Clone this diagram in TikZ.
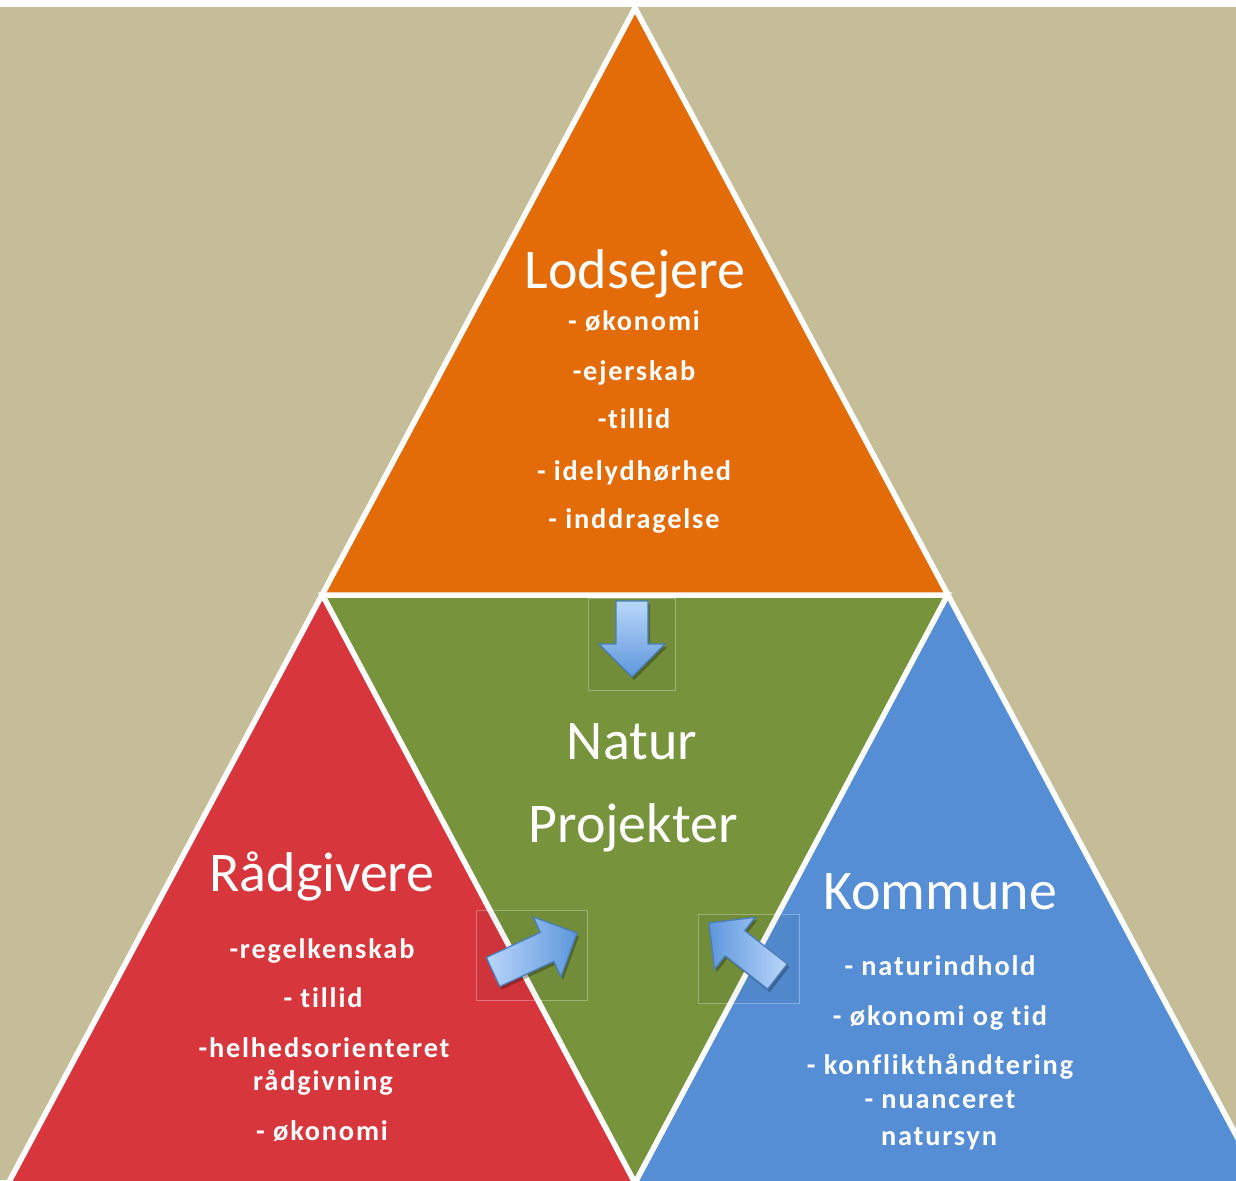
\documentclass[tikz,border=0pt]{standalone}
\usepackage{fontspec}
\setmainfont{Carlito}
\newfontfamily\itemfont[LetterSpace=6.5,Ligatures={NoCommon}]{Carlito}
\definecolor{bgtan}{HTML}{C4BD97}
\definecolor{orng}{HTML}{E36C09}
\definecolor{rd}{HTML}{D7373C}
\definecolor{grn}{HTML}{77933C}
\definecolor{blu}{HTML}{558ED5}
\definecolor{arlight}{HTML}{B9D6FA}
\definecolor{ardark}{HTML}{5E97DC}
\definecolor{arline}{HTML}{4A7EBB}
\newcommand\blockarr[4]{%
  \begin{scope}[shift={#1},shift={(2,3)},rotate=#2]
    \fill[black,opacity=0.28] (0,-16) -- ({#3-33},-16) -- ({#3-33},-33) -- (#3,0) -- ({#3-33},33) -- ({#3-33},16) -- (0,16) -- cycle;
  \end{scope}
  \begin{scope}[shift={#1},rotate=#2]
    \path[draw=arline,line width=1.3,line join=miter,#4] (0,-16) -- ({#3-33},-16) -- ({#3-33},-33) -- (#3,0) -- ({#3-33},33) -- ({#3-33},16) -- (0,16) -- cycle;
  \end{scope}}
\begin{document}
\begin{tikzpicture}[x=1pt,y=-1pt,
  title/.style={text=white,font=\fontsize{56}{60}\selectfont,anchor=base,inner sep=0},
  item/.style={text=white,font=\itemfont\bfseries\fontsize{28.3}{32}\selectfont,anchor=base,inner sep=0},
  wline/.style={draw=white,line width=5.5,line join=miter},
  fbox/.style={draw=white,draw opacity=0.3,fill=black,fill opacity=0.04,line width=1}]
\useasboundingbox (0,0) rectangle (1236,1180);
\begin{scope}
\clip (0,0) rectangle (1236,1180);
\fill[bgtan] (0,0) rectangle (1236,1180);
\fill[white] (0,0) rectangle (1236,7);
\coordinate (A) at (635,8);
\coordinate (B) at (-6,1210);
\coordinate (C) at (1276,1210);
\coordinate (M1) at (322.5,595);
\coordinate (M2) at (947.5,595);
\coordinate (M3) at (635,1183);
\coordinate (M4) at (635,1210);
\fill[orng] (A) -- (M1) -- (M2) -- cycle;
\fill[rd] (M1) -- (B) -- (M4) -- (M3) -- cycle;
\fill[blu] (M2) -- (M3) -- (M4) -- (C) -- cycle;
\fill[grn] (M1) -- (M2) -- (M3) -- cycle;
\draw[wline] (B) -- (A) -- (C);
\draw[wline] (M1) -- (M2) -- (M3) -- cycle;
\end{scope}
% arrow boxes
\draw[fbox] (588,598) rectangle (675,690);
\draw[fbox] (476,910) rectangle (587,1000);
\draw[fbox] (698,914) rectangle (799,1003);
\blockarr{(632,601)}{-90}{76}{top color=arlight,bottom color=ardark}
\blockarr{(493,972)}{24.9}{92.6}{left color=arlight,right color=ardark}
\blockarr{(777.5,976.5)}{142}{87}{left color=ardark,right color=arlight}
% texts
\node[title] (lt) at (635,288) {Lodsejere};
\node[item] (l1) at (634,330) {- økonomi};
\node[item] (l2) at (634,380) {-ejerskab};
\node[item] (l3) at (634,428) {-tillid};
\node[item] (l4) at (634,480) {- idelydhørhed};
\node[item] (l5) at (634,528) {- inddragelse};
\node[title] (n1) at (632,759) {Natur};
\node[title] (n2) at (633,842) {Projekter};
\node[title] (rt) at (322,891) {Rådgivere};
\node[item] (r1) at (322,958) {-regelkenskab};
\node[item] (r2) at (323,1007) {- tillid};
\node[item] (r3) at (324,1057) {-helhedsorienteret};
\node[item] (r4) at (323,1090) {rådgivning};
\node[item] (r5) at (322,1140) {- økonomi};
\node[title] (kt) at (940,909) {Kommune};
\node[item] (k1) at (940,975) {- naturindhold};
\node[item] (k2) at (940,1025) {- økonomi og tid};
\node[item] (k3) at (940,1074) {- konflikthåndtering};
\node[item] (k4) at (940,1108) {- nuanceret};
\node[item] (k5) at (939,1145) {natursyn};
\end{tikzpicture}
\end{document}
